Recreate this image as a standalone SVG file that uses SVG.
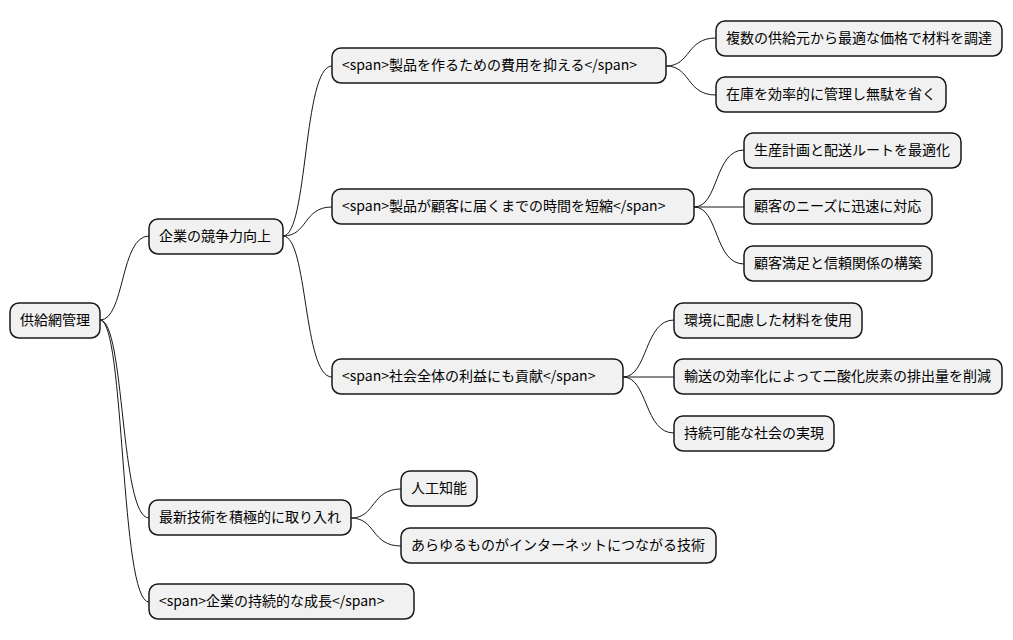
<svg xmlns="http://www.w3.org/2000/svg" width="1013" height="640" viewBox="0 0 1013 640">
<style>
.n rect{fill:#f1f1f1;stroke:#181818;stroke-width:1.5}
.n text{font-family:"Noto Sans CJK JP","Noto Sans",sans-serif;font-size:14px;fill:#000}
#c path{fill:none;stroke:#181818;stroke-width:1}
</style>
<rect width="1013" height="640" fill="#fff"/>
<g id="c">
<path d="M100 320 C125 320 120 236 149 236"/>
<path d="M100 320 C125 320 120 518 149 518"/>
<path d="M100 320 C125 320 120 602 149 602"/>
<path d="M283 236 C308 236 303 66 332 66"/>
<path d="M283 236 C308 236 303 207 332 207"/>
<path d="M283 236 C308 236 303 377 332 377"/>
<path d="M666 66 C691 66 686 38 716 38"/>
<path d="M666 66 C691 66 686 95 716 95"/>
<path d="M694 207 C719 207 714 150 744 150"/>
<path d="M694 207 L744 207"/>
<path d="M694 207 C719 207 714 264 744 264"/>
<path d="M623 377 C648 377 644 320 674 320"/>
<path d="M623 377 L674 377"/>
<path d="M623 377 C648 377 644 433 674 433"/>
<path d="M351 518 C376 518 371 489 401 489"/>
<path d="M351 518 C376 518 371 546 401 546"/>
</g>
<g id="n1" class="n"><rect x="10" y="303" width="90" height="35" rx="9"/><text x="20" y="325">供給網管理</text></g>
<g id="n2" class="n"><rect x="149" y="219" width="134" height="35" rx="9"/><text x="159" y="241">企業の競争力向上</text></g>
<g id="n3" class="n"><rect x="332" y="48" width="334" height="35" rx="9"/><text x="342" y="70">&lt;span&gt;製品を作るための費用を抑える&lt;/span&gt;</text></g>
<g id="n4" class="n"><rect x="716" y="21" width="286" height="35" rx="9"/><text x="726" y="43">複数の供給元から最適な価格で材料を調達</text></g>
<g id="n5" class="n"><rect x="716" y="77" width="230" height="35" rx="9"/><text x="726" y="99">在庫を効率的に管理し無駄を省く</text></g>
<g id="n6" class="n"><rect x="332" y="189" width="362" height="35" rx="9"/><text x="342" y="211">&lt;span&gt;製品が顧客に届くまでの時間を短縮&lt;/span&gt;</text></g>
<g id="n7" class="n"><rect x="744" y="133" width="217" height="35" rx="9"/><text x="754" y="155">生産計画と配送ルートを最適化</text></g>
<g id="n8" class="n"><rect x="744" y="189" width="188" height="35" rx="9"/><text x="754" y="211">顧客のニーズに迅速に対応</text></g>
<g id="n9" class="n"><rect x="744" y="246" width="188" height="35" rx="9"/><text x="754" y="268">顧客満足と信頼関係の構築</text></g>
<g id="n10" class="n"><rect x="332" y="359" width="291" height="35" rx="9"/><text x="342" y="381">&lt;span&gt;社会全体の利益にも貢献&lt;/span&gt;</text></g>
<g id="n11" class="n"><rect x="674" y="303" width="188" height="35" rx="9"/><text x="684" y="325">環境に配慮した材料を使用</text></g>
<g id="n12" class="n"><rect x="674" y="359" width="328" height="35" rx="9"/><text x="684" y="381">輸送の効率化によって二酸化炭素の排出量を削減</text></g>
<g id="n13" class="n"><rect x="674" y="416" width="160" height="35" rx="9"/><text x="684" y="438">持続可能な社会の実現</text></g>
<g id="n14" class="n"><rect x="149" y="500" width="202" height="35" rx="9"/><text x="159" y="522">最新技術を積極的に取り入れ</text></g>
<g id="n15" class="n"><rect x="401" y="471" width="76" height="35" rx="9"/><text x="411" y="493">人工知能</text></g>
<g id="n16" class="n"><rect x="401" y="528" width="315" height="35" rx="9"/><text x="411" y="550">あらゆるものがインターネットにつながる技術</text></g>
<g id="n17" class="n"><rect x="149" y="584" width="265" height="35" rx="9"/><text x="159" y="606">&lt;span&gt;企業の持続的な成長&lt;/span&gt;</text></g>
</svg>
